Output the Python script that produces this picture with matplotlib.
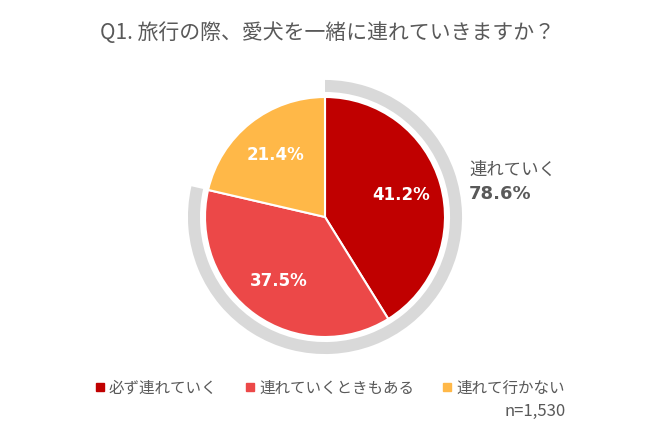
import matplotlib.pyplot as plt
from matplotlib.lines import Line2D

plt.rcParams['font.family'] = ['Noto Sans CJK JP', 'DejaVu Sans']

# data
categories = ['必ず連れていく', '連れていくときもある', '連れて行かない']
values = [41.2, 37.5, 21.4]
colors = ['#C00000', '#EC4848', '#FFB848']
ring_label = '連れていく'
ring_values = [78.6, 21.4]
n_label = 'n=1,530'
title = 'Q1. 旅行の際、愛犬を一緒に連れていきますか？'

fig = plt.figure(figsize=(6.5, 4.37), dpi=100)
# pie centre ~ (325, 217) px, radius 120 px
ax = fig.add_axes([(325 - 144) / 650, (437 - 217 - 144) / 437, 288 / 650, 288 / 437])

# grey ring showing the "連れていく" total
ring, _ = ax.pie(ring_values, radius=1.142, startangle=90, counterclock=False,
                 colors=['#D9D9D9', 'none'],
                 wedgeprops=dict(width=0.1, edgecolor='none'))

wedges, texts, autotexts = ax.pie(values, radius=1.0, startangle=90, counterclock=False,
                                  colors=colors, autopct='%.1f%%', pctdistance=0.66,
                                  wedgeprops=dict(edgecolor='white', linewidth=1.5),
                                  textprops=dict(color='white', fontsize=12,
                                                 fontweight='bold',
                                                 family=['DejaVu Sans']))
ax.set_xlim(-1.2, 1.2)
ax.set_ylim(-1.2, 1.2)
ax.set_aspect('equal')
ax.axis('off')

fig.text(327 / 650, 1 - 33 / 437, title, ha='center', va='center', fontsize=15,
         color='#595959')

fig.text(469 / 650, 1 - 170 / 437, ring_label, ha='left', va='center',
         fontsize=12.5, color='#595959')
fig.text(469 / 650, 1 - 194 / 437, '%.1f%%' % ring_values[0], ha='left', va='center',
         fontsize=13, fontweight='bold', color='#595959', family=['DejaVu Sans'])

handles = [Line2D([], [], marker='s', linestyle='none', markersize=5.5,
                  markerfacecolor=c, markeredgecolor=c) for c in colors]
fig.legend(handles, categories, loc='center', bbox_to_anchor=(330 / 650, 1 - 388 / 437),
           ncol=3, frameon=False, fontsize=11.2, handlelength=0.6, handletextpad=0.3,
           columnspacing=1.8, labelcolor='#595959')

fig.text(566 / 650, 1 - 411 / 437, n_label, ha='right', va='center', fontsize=12,
         color='#595959')

fig.savefig('out.png', dpi=100, facecolor='white')
